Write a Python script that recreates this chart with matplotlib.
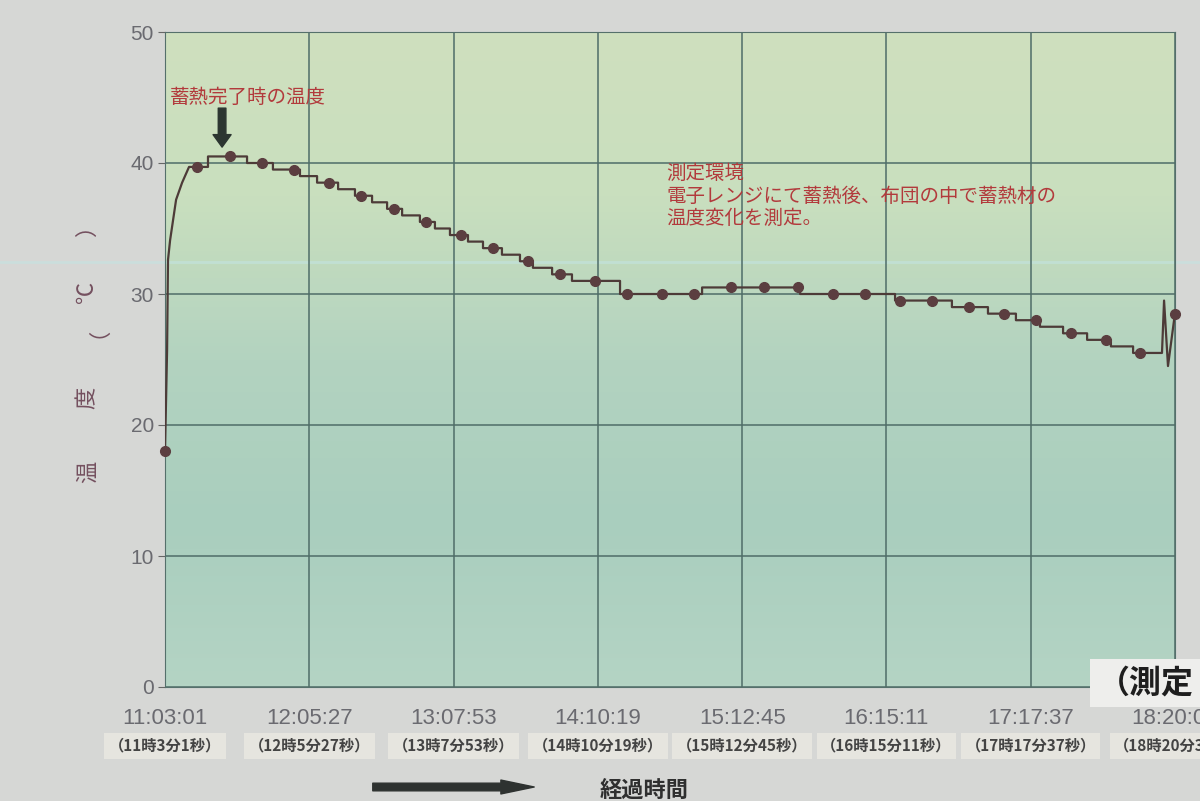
import matplotlib.pyplot as plt
import numpy as np
from matplotlib.colors import LinearSegmentedColormap
from matplotlib.lines import Line2D

plt.rcParams['font.family'] = ['Noto Sans CJK JP', 'DejaVu Sans']
NARROW = ['Liberation Sans Narrow', 'Liberation Sans', 'DejaVu Sans']

# tick labels on the time axis
tick_clock = ['11:03:01', '12:05:27', '13:07:53', '14:10:19',
              '15:12:45', '16:15:11', '17:17:37', '18:20:03']
tick_jp = ['（11時3分1秒）', '（12時5分27秒）', '（13時7分53秒）', '（14時10分19秒）',
           '（15時12分45秒）', '（16時15分11秒）', '（17時17分37秒）', '（18時20分3秒）']

# markers (minutes after 11:03:01, temperature)
marker_min = [0, 14, 28, 42, 56, 71, 85, 99, 113, 128, 142, 157, 171, 186, 200, 215,
              229, 245, 259, 274, 289, 303, 318, 332, 348, 363, 377, 392, 407, 422, 437]
marker_temp = [18.0, 39.7, 40.5, 40.0, 39.5, 38.5, 37.5, 36.5, 35.5, 34.5, 33.5,
               32.5, 31.5, 31.0, 30.0, 30.0, 30.0, 30.5, 30.5, 30.5, 30.0, 30.0,
               29.5, 29.5, 29.0, 28.5, 28.0, 27.0, 26.5, 25.5, 28.5]

# logged line: initial rise
rise_min = [0, 0.9, 1.3, 2.2, 4.8, 7.4, 10.4]
rise_temp = [18.0, 25.7, 32.6, 34.1, 37.2, 38.5, 39.7]
# logged line: step changes (minute, new temperature)
step_min = [18.6, 35.5, 46.7, 58.4, 65.8, 74.9, 82.2, 89.6, 96.1, 102.6, 110.3,
            116.8, 123.3, 131.1, 137.6, 145.8, 153.6, 159.2, 167.5, 176.1, 196.9,
            232.4, 274.8, 315.9, 340.5, 356.1, 368.2, 378.6, 388.6, 399.0, 409.3,
            418.9]
step_temp = [40.5, 40.0, 39.5, 39.0, 38.5, 38.0, 37.5, 37.0, 36.5, 36.0, 35.5,
             35.0, 34.5, 34.0, 33.5, 33.0, 32.5, 32.0, 31.5, 31.0, 30.0,
             30.5, 30.0, 29.5, 29.0, 28.5, 28.0, 27.5, 27.0, 26.5, 26.0,
             25.5]
# logged line: last readings
end_min = [431.4, 432.3, 434.0, 437.0]
end_temp = [25.5, 29.5, 24.5, 28.5]


def clock_to_min(s):
    h, m, sec = map(int, s.split(':'))
    return (h * 3600 + m * 60 + sec - (11 * 3600 + 3 * 60 + 1)) / 60


tick_pos = [clock_to_min(s) for s in tick_clock]

# build the stepped path
line_x, line_y = list(rise_min), list(rise_temp)
for t, v in zip(step_min, step_temp):
    line_x += [t, t]
    line_y += [line_y[-1], v]
line_x += end_min
line_y += end_temp

W, H = 1200, 801
fig = plt.figure(figsize=(12, 8.01), dpi=100, facecolor='#d6d7d5')
ax = fig.add_axes([165 / W, 1 - 687 / H, (1175 - 165) / W, (687 - 32) / H])

# paper background of the plot area
bg = LinearSegmentedColormap.from_list('bg', ['#b4d4c4', '#a9cebe', '#b3d3c0', '#c9dfbe', '#cfe0bf'])
grad = np.linspace(0, 1, 200).reshape(-1, 1)
ax.imshow(grad, extent=[0, tick_pos[-1], 0, 50], origin='lower', aspect='auto', cmap=bg, zorder=0)

# faint crease of the photographed sheet
fig.add_artist(Line2D([0, 1], [1 - 262 / H, 1 - 262 / H], transform=fig.transFigure,
                      color='#c4e4e2', lw=2, alpha=0.6, zorder=-1))
ax.axhline((687 - 262) / 13.1, color='#c4e4e2', lw=2, alpha=0.6, zorder=1)

ax.plot(line_x, line_y, color='#4d3b38', lw=1.6, zorder=3)
ax.plot(marker_min, marker_temp, 'o', color='#5b3e40', ms=7, zorder=4, clip_on=False)

ax.set_xlim(0, tick_pos[-1])
ax.set_ylim(0, 50)
ax.set_yticks([0, 10, 20, 30, 40, 50])
ax.set_xticks(tick_pos, labels=tick_clock)
ax.grid(True, color='#4f6d68', lw=1.1)
for s in ax.spines.values():
    s.set_color('#55706b')
ax.tick_params(axis='y', length=5, color='#666', labelcolor='#6a6a70', labelsize=15, pad=3)
ax.tick_params(axis='x', length=0, labelcolor='#6a6a70', labelsize=16, pad=15)
for lab in ax.get_xticklabels() + ax.get_yticklabels():
    lab.set_family(NARROW)

# japanese time labels under the clock labels
for t, s in zip(tick_pos, tick_jp):
    ax.text(t, -0.09, s, transform=ax.get_xaxis_transform(), ha='center', va='center',
            fontsize=11, fontweight='bold', color='#444444', clip_on=False,
            bbox=dict(boxstyle='square,pad=0.3', fc='#e6e5df', ec='none'))

# y label, rotated characters
for ch, yp in zip(['温', '度', '（', '℃', '）'], [472, 398, 327, 292, 225]):
    fig.text(87 / W, 1 - yp / H, ch, rotation=90, ha='center', va='center',
             fontsize=16, color='#74505f')

# annotations
ax.text(2, 45.0, '蓄熱完了時の温度', fontsize=14, color='#b23a3c', va='center', ha='left')
ax.annotate('', xy=(24.7, 41.0), xytext=(24.7, 44.4),
            arrowprops=dict(arrowstyle='simple,head_width=1.3,head_length=0.9,tail_width=0.55',
                            color='#2c3631'))
ax.text(217, 40.0, '測定環境\n電子レンジにて蓄熱後、布団の中で蓄熱材の\n温度変化を測定。',
        fontsize=14, color='#b23a3c', va='top', ha='left', linespacing=1.1)

# bottom right partial caption
fig.text(1098 / W, 1 - 683 / H, '（測定', fontsize=23, fontweight='bold', color='#1e1e1e',
         ha='left', va='center',
         bbox=dict(boxstyle='square,pad=0.25', fc='#eeeeec', ec='none'))

# elapsed time arrow and caption
ax.annotate('', xy=(537, H - 787), xycoords='figure pixels', xytext=(370, H - 787),
            textcoords='figure pixels',
            arrowprops=dict(arrowstyle='simple,head_width=1.0,head_length=2.4,tail_width=0.55',
                            color='#2e3230'))
fig.text(600 / W, 1 - 790 / H, '経過時間', fontsize=16, fontweight='bold', color='#2f2f2f',
         ha='left', va='center')

fig.savefig('out.png', dpi=100, facecolor=fig.get_facecolor())
